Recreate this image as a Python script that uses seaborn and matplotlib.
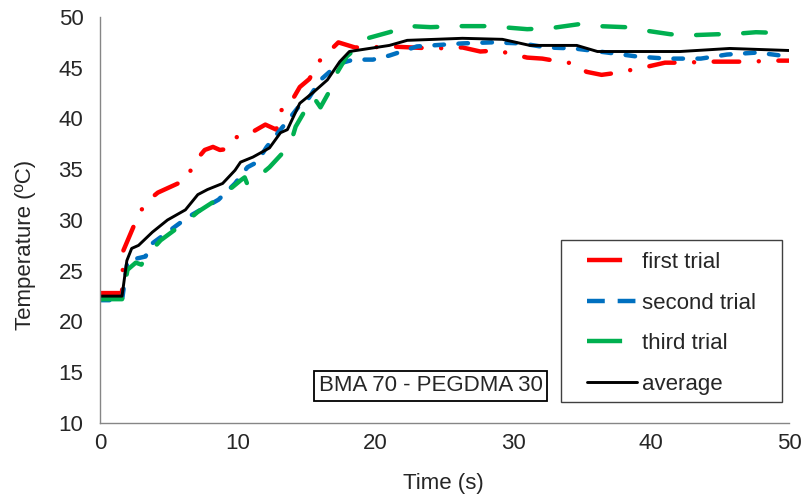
import matplotlib
matplotlib.use("Agg")
import matplotlib.pyplot as plt
from matplotlib.lines import Line2D
from matplotlib.patches import Rectangle
import seaborn as sns

# ---------------- data ----------------
first_t = [0, 1.6, 1.7, 2.7, 3.3, 4.2, 6.3, 6.8, 7.6, 8.2, 8.7, 9.3, 10.0, 11.1, 12.0,
           12.8, 13.1, 13.6, 14.5, 15.2, 15.8, 17.3, 18.5, 19.6, 21.0, 24.2, 26.3, 27.6,
           28.8, 31.0, 32.1, 33.4, 34.5, 35.3, 36.4, 37.5, 39.7, 41.0, 42.1, 44.5, 45.8,
           47.0, 49.1, 50]
first_y = [22.8, 22.8, 27.0, 30.2, 31.7, 32.7, 34.0, 35.6, 36.9, 37.2, 36.9, 37.0, 38.3,
           38.7, 39.4, 38.9, 40.8, 41.0, 43.1, 43.9, 45.5, 47.5, 47.0, 47.0, 47.1, 46.9,
           47.0, 46.6, 46.7, 46.0, 45.9, 45.6, 45.4, 44.6, 44.3, 44.5, 45.1, 45.5, 45.5,
           45.6, 45.6, 45.6, 45.7, 45.7]

second_t = [0, 1.6, 2.0, 3.3, 3.8, 6.4, 7.3, 8.6, 9.2, 9.8, 10.7, 11.4, 12.1, 13.1, 14.5,
            15.1, 16.0, 17.0, 17.6, 18.4, 19.8, 21.0, 23.0, 26.3, 28.4, 30.6, 32.4, 34.4,
            36.8, 39.0, 41.1, 43.6, 45.5, 47.7, 50]
second_y = [22.1, 22.1, 26.0, 26.4, 27.7, 30.3, 31.0, 32.0, 32.8, 33.6, 35.2, 35.7, 37.2,
            38.9, 41.3, 41.9, 43.8, 45.0, 45.5, 45.8, 45.8, 46.2, 47.1, 47.4, 47.5, 47.4,
            47.0, 46.9, 46.5, 46.1, 45.9, 45.9, 46.3, 46.5, 46.1]

third_t = [0, 1.6, 2.0, 2.6, 3.0, 3.6, 4.4, 6.4, 7.1, 8.7, 9.4, 10.2, 10.5, 10.7, 11.1,
           11.6, 12.3, 13.8, 14.2, 15.1, 15.5, 16.0, 16.7, 17.2, 17.9, 19.4, 21.0, 22.5,
           24.0, 25.9, 28.1, 29.2, 31.0, 32.7, 34.8, 36.2, 38.1, 39.4, 41.4, 42.8, 44.8,
           45.7, 47.6, 50]
third_y = [22.2, 22.2, 25.1, 25.8, 25.6, 26.8, 28.0, 30.0, 30.8, 32.2, 33.0, 33.9, 34.2,
           33.5, 34.1, 34.4, 35.2, 37.4, 39.2, 41.3, 42.1, 41.1, 42.8, 44.5, 46.1, 47.9,
           48.5, 49.1, 49.0, 49.1, 49.1, 49.0, 48.8, 48.9, 49.3, 49.1, 49.0, 48.7, 48.3,
           48.2, 48.3, 48.3, 48.5, 48.4]

avg_t = [0, 1.6, 1.95, 2.3, 2.8, 3.8, 4.9, 6.2, 7.1, 7.8, 8.9, 9.8, 10.2, 11.1, 12.3,
         13.1, 13.6, 14.5, 15.5, 16.5, 17.4, 18.1, 21.0, 22.3, 26.3, 29.2, 31.2, 34.6,
         36.1, 42.1, 45.7, 50]
avg_y = [22.5, 22.5, 26.0, 27.2, 27.5, 28.8, 30.0, 31.0, 32.5, 33.0, 33.6, 34.9, 35.7,
         36.2, 37.1, 38.6, 38.9, 41.5, 42.6, 43.8, 45.6, 46.6, 47.2, 47.7, 47.9, 47.8,
         47.2, 47.2, 46.6, 46.6, 46.9, 46.7]

labels = ["first trial", "second trial", "third trial", "average"]
x_ticks = [0, 10, 20, 30, 40, 50]
y_ticks = [10, 15, 20, 25, 30, 35, 40, 45, 50]
annotation = "BMA 70 - PEGDMA 30"

# ---------------- style ----------------
sns.set_theme(style="white")
plt.rcParams["font.family"] = ["Liberation Sans", "DejaVu Sans"]
FS = 16
TXT = "#262626"

RED, BLUE, GREEN = "#FF0000", "#0070C0", "#00B050"
LW = 3.2

fig = plt.figure(figsize=(8.05, 4.97), dpi=100)
ax = fig.add_axes([0.1242, 0.1489, 0.8559, 0.8169])

sns.lineplot(x=first_t, y=first_y, ax=ax, color=RED, lw=LW, sort=False, estimator=None,
             linestyle=(0, (5.75, 4.4, 0.01, 4.4)), dash_capstyle="round",
             solid_capstyle="round")
sns.lineplot(x=second_t, y=second_y, ax=ax, color=BLUE, lw=LW, sort=False, estimator=None,
             linestyle=(0, (2.15, 3.25)), dash_capstyle="round")
sns.lineplot(x=third_t, y=third_y, ax=ax, color=GREEN, lw=LW, sort=False, estimator=None,
             linestyle=(0, (5.1, 5.5)), dash_capstyle="round")
sns.lineplot(x=avg_t, y=avg_y, ax=ax, color="black", lw=2.1, sort=False, estimator=None)

ax.set_xlim(0, 50)
ax.set_ylim(10, 50)
ax.set_xticks(x_ticks)
ax.set_yticks(y_ticks)
ax.set_xticklabels([str(v) for v in x_ticks])
ax.set_yticklabels([str(v) for v in y_ticks])

for s in ["top", "right"]:
    ax.spines[s].set_visible(False)
for s in ["left", "bottom"]:
    ax.spines[s].set_color("#868686")
    ax.spines[s].set_linewidth(1.0)
ax.tick_params(axis="both", which="major", direction="out", length=4, width=1.0,
               color="#868686", labelsize=FS, labelcolor=TXT)
ax.tick_params(axis="x", pad=3)
ax.tick_params(axis="y", pad=8)
ax.grid(False)

ax.set_xlabel("Time (s)", fontsize=FS, color=TXT)
ax.set_ylabel("Temperature (ºC)", fontsize=FS, color=TXT)
ax.xaxis.set_label_coords(0.498, -0.123)
ax.yaxis.set_label_coords(-0.093, 0.438)

# annotation box
ax.text(0.480, 0.092, annotation, transform=ax.transAxes, ha="center", va="center",
        fontsize=FS, color=TXT,
        bbox=dict(boxstyle="square,pad=0.2", fc="white", ec="black", lw=1.3))

# legend frame drawn separately (wide left padding as in the reference)
ax.add_patch(Rectangle((0.669, 0.0517), 0.321, 0.399, transform=ax.transAxes,
                       fc="white", ec="#404040", lw=1.0, zorder=4))

handles = [
    Line2D([], [], color=RED, lw=LW, linestyle=(0, (7.9, 20))),
    Line2D([], [], color=BLUE, lw=LW, linestyle=(0, (4.0, 2.9))),
    Line2D([], [], color=GREEN, lw=LW, linestyle=(0, (7.9, 20))),
    Line2D([], [], color="black", lw=2.1),
]
leg = ax.legend(handles, labels, loc="upper left", bbox_to_anchor=(0.7068, 0.421),
                borderaxespad=0, borderpad=0, fontsize=FS, frameon=False,
                handlelength=2.25, handletextpad=0.22, labelspacing=0.88)
leg.set_zorder(5)
for t in leg.get_texts():
    t.set_color(TXT)

fig.savefig("out.png", dpi=100)
